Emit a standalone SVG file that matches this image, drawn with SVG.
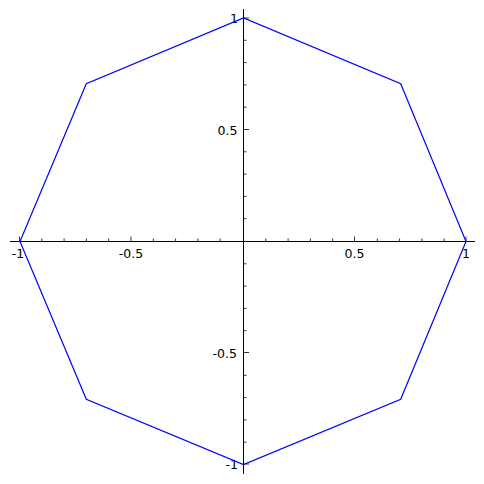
<svg xmlns="http://www.w3.org/2000/svg" width="484" height="484" viewBox="0 0 484 484">
<style>
.ax{stroke:#000;stroke-width:1;fill:none}
.tk{stroke:#000;stroke-width:0.8;fill:none}
.lb{font-family:"DejaVu Sans",sans-serif;font-size:12.5px;fill:#000}
.poly{stroke:#0000ff;stroke-width:1.2;fill:none;stroke-linejoin:miter}
</style>
<rect width="484" height="484" fill="#fff"/>
<g id="axes">
<line class="ax" x1="10" y1="241.5" x2="475" y2="241.5"/>
<line class="ax" x1="243.5" y1="9" x2="243.5" y2="474"/>
<path class="tk" d="M19.5 241.5V236.5 M131 241.5V236.5 M354.5 241.5V236.5 M466 241.5V236.5
M41.8 241.5V238.5 M64.1 241.5V238.5 M86.4 241.5V238.5 M108.7 241.5V238.5 M153.3 241.5V238.5 M175.6 241.5V238.5 M197.9 241.5V238.5 M220.2 241.5V238.5
M265.8 241.5V238.5 M288.1 241.5V238.5 M310.4 241.5V238.5 M332.7 241.5V238.5 M377.3 241.5V238.5 M399.6 241.5V238.5 M421.9 241.5V238.5 M444.2 241.5V238.5"/>
<path class="tk" d="M243.5 18H249 M243.5 129.5H249 M243.5 352.5H249 M243.5 464H249
M243.5 40.3H246.5 M243.5 62.6H246.5 M243.5 84.9H246.5 M243.5 107.2H246.5 M243.5 151.8H246.5 M243.5 174.1H246.5 M243.5 196.4H246.5 M243.5 218.7H246.5
M243.5 263.8H246.5 M243.5 286.1H246.5 M243.5 308.4H246.5 M243.5 330.7H246.5 M243.5 375.3H246.5 M243.5 397.6H246.5 M243.5 419.9H246.5 M243.5 442.2H246.5"/>
</g>
<g id="labels" class="lb">
<text x="18" y="258" text-anchor="middle">-1</text>
<text x="131" y="258" text-anchor="middle">-0.5</text>
<text x="354.5" y="258" text-anchor="middle">0.5</text>
<text x="466" y="258" text-anchor="middle">1</text>
<text x="238" y="22.5" text-anchor="end">1</text>
<text x="237.5" y="134.5" text-anchor="end">0.5</text>
<text x="237" y="358" text-anchor="end">-0.5</text>
<text x="238" y="469" text-anchor="end">-1</text>
</g>
<g id="octagon">
<polygon class="poly" points="466,241.5 400.7,83.8 243.5,18 86.3,83.8 20,241.5 86.3,399.2 243.5,464.5 400.7,399.2"/>
</g>
</svg>
